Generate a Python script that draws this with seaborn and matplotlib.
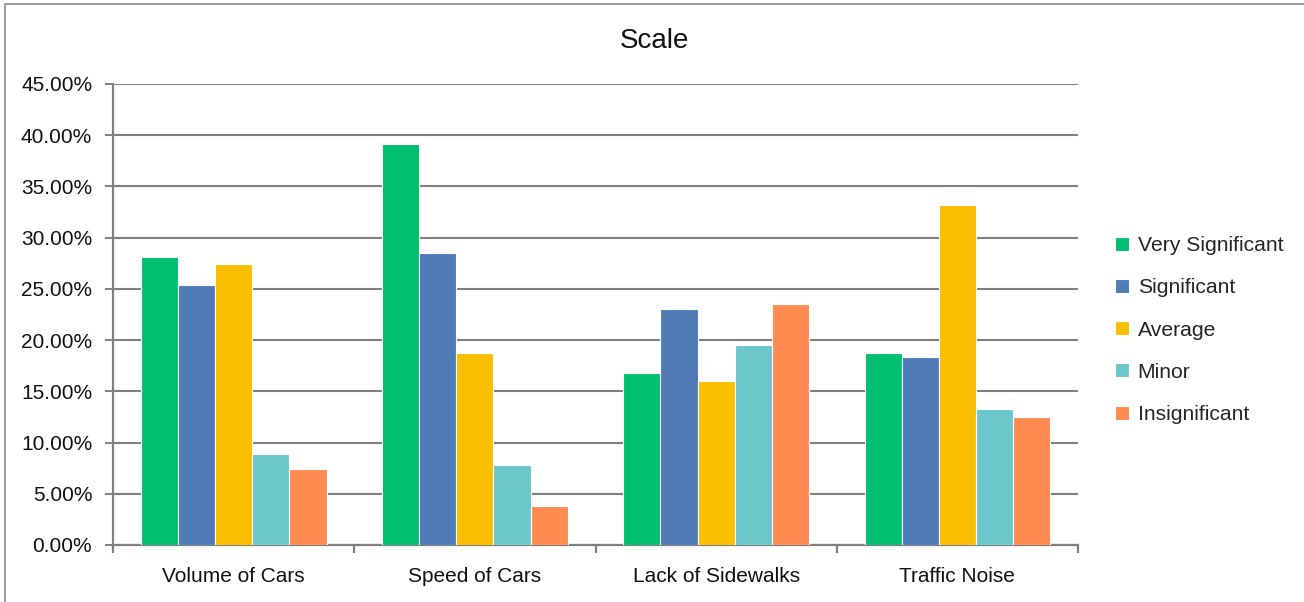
import numpy as np
import pandas as pd
import matplotlib
matplotlib.use('Agg')
import matplotlib.pyplot as plt
import seaborn as sns
from matplotlib.ticker import PercentFormatter, FixedLocator

# categories and series (percent values)
categories = ['Volume of Cars', 'Speed of Cars', 'Lack of Sidewalks', 'Traffic Noise']
levels = ['Very Significant', 'Significant', 'Average', 'Minor', 'Insignificant']
very_significant = [28.1, 39.1, 16.8, 18.7]
significant = [25.4, 28.5, 23.0, 18.3]
average = [27.4, 18.7, 16.0, 33.2]
minor = [8.9, 7.8, 19.5, 13.3]
insignificant = [7.4, 3.8, 23.5, 12.5]
colors = ['#00BF6F', '#4F7CB6', '#F9BF00', '#6CC7CB', '#FF8B50']

series = [very_significant, significant, average, minor, insignificant]
rows = []
for lev, vals in zip(levels, series):
    for cat, v in zip(categories, vals):
        rows.append({'category': cat, 'level': lev, 'value': v})
df = pd.DataFrame(rows)

sns.set_style('white')
plt.rcParams['font.family'] = ['Liberation Sans', 'DejaVu Sans']

fig = plt.figure(figsize=(13.04, 6.02), dpi=100)
ax = fig.add_axes([0.0867, 0.0947, 0.74, 0.766])

sns.barplot(data=df, x='category', y='value', hue='level', order=categories,
            hue_order=levels, palette=colors, width=0.77, gap=0,
            edgecolor='white', linewidth=0.8, saturation=1, ax=ax, zorder=3)

grid_c = '#808080'
ax.set_ylim(0, 45)
ax.set_xlim(-0.5, 3.5)
ax.set_yticks(np.arange(0, 46, 5))
ax.yaxis.set_major_formatter(PercentFormatter(decimals=2))
ax.yaxis.grid(True, color=grid_c, linewidth=1.5, zorder=0)
ax.set_axisbelow(True)
ax.set_xlabel('')
ax.set_ylabel('')

for s in ['top', 'right']:
    ax.spines[s].set_visible(False)
for s in ['left', 'bottom']:
    ax.spines[s].set_color(grid_c)
    ax.spines[s].set_linewidth(1.6)

ax.tick_params(axis='y', which='major', length=6, color=grid_c, width=1.4,
               left=True, labelsize=15, pad=9, labelcolor='#111111')
ax.tick_params(axis='x', which='major', length=0, labelsize=15, pad=15.5,
               labelcolor='#111111')
ax.xaxis.set_minor_locator(FixedLocator([-0.5, 0.5, 1.5, 2.5, 3.5]))
ax.tick_params(axis='x', which='minor', length=6, color=grid_c, width=1.6,
               bottom=True)

fig.text(0.502, 0.932, 'Scale', fontsize=20, color='#111111',
         ha='center', va='center')

ax.legend(loc='center left', bbox_to_anchor=(1.03, 0.466), frameon=False,
          fontsize=15.2, handlelength=0.65, handleheight=0.65, handletextpad=0.4,
          labelspacing=1.1, borderaxespad=0)

# thin frame around the chart area
fig.patches.append(plt.Rectangle((0.004, -0.01), 1.1, 1.003,
                                 transform=fig.transFigure, fill=False,
                                 edgecolor='#8c8c8c', linewidth=1.2))

fig.savefig('out.png', dpi=100)
